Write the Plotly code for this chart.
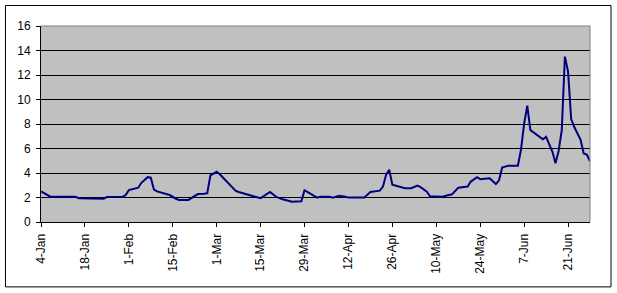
import plotly.graph_objects as go

dates = [
    "2007-01-04", "2007-01-06", "2007-01-07", "2007-01-15", "2007-01-16", "2007-01-24",
    "2007-01-25", "2007-01-30", "2007-01-31", "2007-02-01", "2007-02-03", "2007-02-04",
    "2007-02-05", "2007-02-06", "2007-02-07", "2007-02-08", "2007-02-09", "2007-02-10",
    "2007-02-13", "2007-02-14", "2007-02-16", "2007-02-17", "2007-02-20", "2007-02-22",
    "2007-02-23", "2007-02-25", "2007-02-26", "2007-02-27", "2007-02-28", "2007-03-01",
    "2007-03-02", "2007-03-04", "2007-03-07", "2007-03-08", "2007-03-11", "2007-03-13",
    "2007-03-15", "2007-03-17", "2007-03-18", "2007-03-20", "2007-03-22", "2007-03-25",
    "2007-03-28", "2007-03-29", "2007-03-31", "2007-04-02", "2007-04-03", "2007-04-06",
    "2007-04-07", "2007-04-09", "2007-04-11", "2007-04-12", "2007-04-17", "2007-04-19",
    "2007-04-22", "2007-04-23", "2007-04-24", "2007-04-25", "2007-04-26", "2007-04-28",
    "2007-04-30", "2007-05-02", "2007-05-04", "2007-05-05", "2007-05-07", "2007-05-08",
    "2007-05-10", "2007-05-12", "2007-05-14", "2007-05-15", "2007-05-17", "2007-05-20",
    "2007-05-21", "2007-05-23", "2007-05-24", "2007-05-27", "2007-05-29", "2007-05-30",
    "2007-05-31", "2007-06-02", "2007-06-05", "2007-06-06", "2007-06-07", "2007-06-08",
    "2007-06-09", "2007-06-11", "2007-06-13", "2007-06-14", "2007-06-16", "2007-06-17",
    "2007-06-18", "2007-06-19", "2007-06-20", "2007-06-21", "2007-06-22", "2007-06-23",
    "2007-06-25", "2007-06-26", "2007-06-27", "2007-06-28",
]

values = [
    2.5, 2.2, 2.07, 2.07, 1.94, 1.9,
    2.05, 2.05, 2.2, 2.6, 2.75, 2.8,
    3.2, 3.45, 3.66, 3.62, 2.65, 2.5,
    2.25, 2.2, 1.9, 1.8, 1.8, 2.13,
    2.28, 2.3, 2.35, 3.8, 3.95, 4.1,
    3.9, 3.35, 2.55, 2.45, 2.2, 2.08,
    1.95, 2.25, 2.45, 2.05, 1.85, 1.66,
    1.7, 2.6, 2.3, 1.99, 2.07, 2.07,
    1.99, 2.15, 2.07, 1.99, 1.99, 2.45,
    2.56, 2.9, 3.85, 4.26, 3.05, 2.88,
    2.76, 2.76, 2.97, 2.85, 2.48, 2.1,
    2.07, 2.07, 2.2, 2.26, 2.8, 2.9,
    3.3, 3.66, 3.5, 3.57, 3.1, 3.4,
    4.45, 4.6, 4.6, 5.9, 8.0, 9.5,
    7.5, 7.15, 6.75, 6.95, 5.75, 4.8,
    5.8, 7.5, 13.5, 12.3, 8.4, 7.75,
    6.7, 5.6, 5.5, 4.95,
]

x_range = ["2007-01-04", "2007-06-28"]
x_tick_start = "2007-01-04"
x_tick_step_days = 14
y_range = [0, 16]
y_tick_step = 2

fig = go.Figure()
fig.add_trace(go.Scatter(
    x=dates, y=values, mode="lines",
    line=dict(color="#000080", width=2),
    hoverinfo="x+y",
))

fig.update_layout(
    width=617, height=293,
    margin=dict(l=41, r=27, t=26, b=71),
    paper_bgcolor="white",
    plot_bgcolor="#C0C0C0",
    showlegend=False,
    font=dict(family="Liberation Sans, Arial, sans-serif", size=12, color="black"),
    xaxis=dict(
        type="date",
        range=x_range,
        tickmode="linear",
        tick0=x_tick_start,
        dtick=x_tick_step_days * 86400000,
        tickformat="%-d-%b",
        tickangle=-90,
        ticks="outside", ticklen=4, tickcolor="black", tickwidth=1,
        showline=True, linecolor="black", linewidth=1,
        showgrid=False, zeroline=False,
        ticklabelstandoff=2,
    ),
    yaxis=dict(
        range=y_range,
        dtick=y_tick_step,
        tick0=0,
        ticks="outside", ticklen=4, tickcolor="black", tickwidth=1,
        showline=True, linecolor="black", linewidth=1,
        showgrid=True, gridcolor="black", gridwidth=1,
        zeroline=False,
        ticklabelstandoff=3,
    ),
    shapes=[
        # plot-area border (top and right appear grey)
        dict(type="line", xref="paper", yref="paper", x0=0, x1=1, y0=1, y1=1,
             line=dict(color="#808080", width=1), layer="above"),
        dict(type="line", xref="paper", yref="paper", x0=1, x1=1, y0=0, y1=1,
             line=dict(color="#808080", width=1), layer="above"),
        # outer chart border
        dict(type="rect", xref="paper", yref="paper",
             x0=-0.0647, x1=1.0383, y0=-0.331, y1=1.1046,
             line=dict(color="black", width=1), fillcolor="rgba(0,0,0,0)", layer="above"),
    ],
)

fig.write_html("out.html")
